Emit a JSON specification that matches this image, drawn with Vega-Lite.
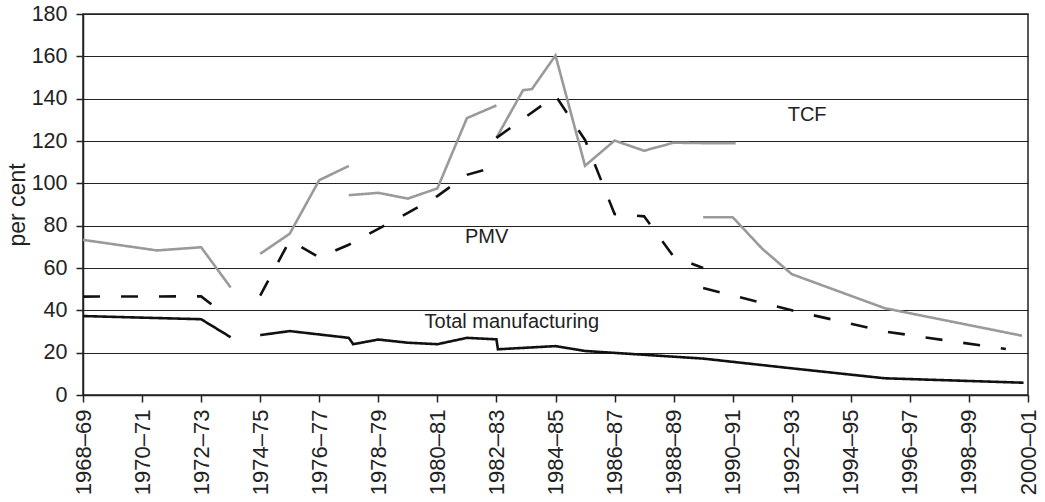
{
  "$schema": "https://vega.github.io/schema/vega-lite/v6.json",
  "width": 945,
  "height": 381,
  "autosize": "none",
  "padding": {"left": 83, "top": 14, "right": 17, "bottom": 107},
  "background": "white",
  "config": {
    "font": "Liberation Sans",
    "view": {"stroke": "#222", "strokeWidth": 1.5},
    "axis": {"domainColor": "#222", "tickColor": "#222", "labelColor": "#222", "titleColor": "#222", "domainWidth": 1.5, "tickWidth": 1.5}
  },
  "layer": [
    {
      "data": {
        "values": [
          {"series": "TCF", "seg": "T1", "year": 1968, "value": 73.3},
          {"series": "TCF", "seg": "T1", "year": 1970.5, "value": 68.3},
          {"series": "TCF", "seg": "T1", "year": 1972, "value": 69.8},
          {"series": "TCF", "seg": "T1", "year": 1973, "value": 50.8},
          {"series": "TCF", "seg": "T2", "year": 1974, "value": 66.7},
          {"series": "TCF", "seg": "T2", "year": 1975, "value": 76.2},
          {"series": "TCF", "seg": "T2", "year": 1976, "value": 101.5},
          {"series": "TCF", "seg": "T2", "year": 1977, "value": 108.2},
          {"series": "TCF", "seg": "T3", "year": 1977, "value": 94.4},
          {"series": "TCF", "seg": "T3", "year": 1978, "value": 95.5},
          {"series": "TCF", "seg": "T3", "year": 1979, "value": 92.8},
          {"series": "TCF", "seg": "T3", "year": 1980, "value": 97.6},
          {"series": "TCF", "seg": "T3", "year": 1981, "value": 130.8},
          {"series": "TCF", "seg": "T3", "year": 1982, "value": 136.8},
          {"series": "TCF", "seg": "T4", "year": 1982, "value": 121.5},
          {"series": "TCF", "seg": "T4", "year": 1982.9, "value": 144},
          {"series": "TCF", "seg": "T4", "year": 1983.2, "value": 144.5},
          {"series": "TCF", "seg": "T4", "year": 1984, "value": 160.4},
          {"series": "TCF", "seg": "T4", "year": 1985, "value": 108.3},
          {"series": "TCF", "seg": "T4", "year": 1986, "value": 120.2},
          {"series": "TCF", "seg": "T4", "year": 1987, "value": 115.4},
          {"series": "TCF", "seg": "T4", "year": 1988, "value": 119.2},
          {"series": "TCF", "seg": "T4", "year": 1989, "value": 119},
          {"series": "TCF", "seg": "T4", "year": 1990.1, "value": 119},
          {"series": "TCF", "seg": "T5", "year": 1989, "value": 84},
          {"series": "TCF", "seg": "T5", "year": 1990, "value": 84},
          {"series": "TCF", "seg": "T5", "year": 1991, "value": 69.1},
          {"series": "TCF", "seg": "T5", "year": 1992, "value": 57.1},
          {"series": "TCF", "seg": "T5", "year": 1995.15, "value": 41},
          {"series": "TCF", "seg": "T5", "year": 1999.8, "value": 28},
          {"series": "PMV", "seg": "P1", "year": 1968, "value": 46.5},
          {"series": "PMV", "seg": "P1", "year": 1972, "value": 46.6},
          {"series": "PMV", "seg": "P1", "year": 1972.45, "value": 41.8},
          {"series": "PMV", "seg": "P2", "year": 1974, "value": 47},
          {"series": "PMV", "seg": "P2", "year": 1975, "value": 73},
          {"series": "PMV", "seg": "P2", "year": 1976, "value": 65},
          {"series": "PMV", "seg": "P2", "year": 1977, "value": 71},
          {"series": "PMV", "seg": "P2", "year": 1978, "value": 78.5},
          {"series": "PMV", "seg": "P2", "year": 1979, "value": 86},
          {"series": "PMV", "seg": "P2", "year": 1980, "value": 94},
          {"series": "PMV", "seg": "P2", "year": 1981, "value": 104},
          {"series": "PMV", "seg": "P2", "year": 1982, "value": 108},
          {"series": "PMV", "seg": "P3", "year": 1982, "value": 121.5},
          {"series": "PMV", "seg": "P3", "year": 1984, "value": 141.4},
          {"series": "PMV", "seg": "P3", "year": 1985, "value": 120.5},
          {"series": "PMV", "seg": "P3", "year": 1986, "value": 85.5},
          {"series": "PMV", "seg": "P3", "year": 1987, "value": 84.4},
          {"series": "PMV", "seg": "P3", "year": 1988, "value": 65.4},
          {"series": "PMV", "seg": "P3", "year": 1989, "value": 60},
          {"series": "PMV", "seg": "P4", "year": 1989, "value": 50.5},
          {"series": "PMV", "seg": "P4", "year": 1992, "value": 40},
          {"series": "PMV", "seg": "P4", "year": 1995.15, "value": 30},
          {"series": "PMV", "seg": "P4", "year": 1999.25, "value": 21.7},
          {"series": "Total manufacturing", "seg": "M1", "year": 1968, "value": 37.3},
          {"series": "Total manufacturing", "seg": "M1", "year": 1972, "value": 35.8},
          {"series": "Total manufacturing", "seg": "M1", "year": 1973, "value": 27.3},
          {"series": "Total manufacturing", "seg": "M2", "year": 1974, "value": 28.3},
          {"series": "Total manufacturing", "seg": "M2", "year": 1975, "value": 30.2},
          {"series": "Total manufacturing", "seg": "M2", "year": 1977, "value": 27},
          {"series": "Total manufacturing", "seg": "M2", "year": 1977.15, "value": 24},
          {"series": "Total manufacturing", "seg": "M2", "year": 1978, "value": 26.2},
          {"series": "Total manufacturing", "seg": "M2", "year": 1979, "value": 24.7},
          {"series": "Total manufacturing", "seg": "M2", "year": 1980, "value": 24},
          {"series": "Total manufacturing", "seg": "M2", "year": 1981, "value": 27},
          {"series": "Total manufacturing", "seg": "M2", "year": 1982, "value": 26.3},
          {"series": "Total manufacturing", "seg": "M2", "year": 1982.05, "value": 21.6},
          {"series": "Total manufacturing", "seg": "M2", "year": 1984, "value": 23.1},
          {"series": "Total manufacturing", "seg": "M2", "year": 1985, "value": 20.8},
          {"series": "Total manufacturing", "seg": "M2", "year": 1989, "value": 17.2},
          {"series": "Total manufacturing", "seg": "M2", "year": 1992, "value": 12.6},
          {"series": "Total manufacturing", "seg": "M2", "year": 1995.15, "value": 7.9},
          {"series": "Total manufacturing", "seg": "M2", "year": 1999.85, "value": 5.8}
        ]
      },
      "mark": {"type": "line", "strokeWidth": 2.6},
      "encoding": {
        "x": {
          "field": "year", "type": "quantitative",
          "scale": {"domain": [1968, 2000], "nice": false, "zero": false},
          "axis": {
            "title": null, "grid": false,
            "values": [1968,1969,1970,1971,1972,1973,1974,1975,1976,1977,1978,1979,1980,1981,1982,1983,1984,1985,1986,1987,1988,1989,1990,1991,1992,1993,1994,1995,1996,1997,1998,1999,2000],
            "labelExpr": "datum.value % 2 == 0 ? datum.value + '–' + slice(toString(datum.value + 1), 2) : ''",
            "labelAngle": -90, "labelAlign": "right", "labelBaseline": "middle",
            "labelFontSize": 22, "labelPadding": 7, "tickSize": 7,
            "labelFlush": false, "labelOverlap": false, "labelBound": false
          }
        },
        "y": {
          "field": "value", "type": "quantitative",
          "scale": {"domain": [0, 180], "nice": false},
          "axis": {
            "title": "per cent", "titleFontSize": 23, "titleFontWeight": "normal", "titlePadding": 2,
            "values": [0,20,40,60,80,100,120,140,160,180],
            "grid": true, "gridColor": "#222", "gridWidth": 1.2,
            "labelFontSize": 21.5, "labelPadding": 9, "tickSize": 7
          }
        },
        "color": {"field": "series", "type": "nominal", "scale": {"domain": ["TCF", "PMV", "Total manufacturing"], "range": ["#9a9a9a", "#111111", "#111111"]}, "legend": null},
        "strokeDash": {"field": "series", "type": "nominal", "scale": {"domain": ["TCF", "PMV", "Total manufacturing"], "range": [[1, 0], [17, 21], [1, 0]]}, "legend": null},
        "detail": {"field": "seg"}
      }
    },
    {
      "data": {"values": [{"label": "TCF"}]},
      "mark": {"type": "text", "fontSize": 20, "color": "#222"},
      "encoding": {"text": {"field": "label"}, "x": {"datum": 1992.52}, "y": {"datum": 132.3}}
    },
    {
      "data": {"values": [{"label": "PMV"}]},
      "mark": {"type": "text", "fontSize": 20, "color": "#222"},
      "encoding": {"text": {"field": "label"}, "x": {"datum": 1981.67}, "y": {"datum": 74.8}}
    },
    {
      "data": {"values": [{"label": "Total manufacturing"}]},
      "mark": {"type": "text", "fontSize": 20, "color": "#222"},
      "encoding": {"text": {"field": "label"}, "x": {"datum": 1982.52}, "y": {"datum": 34.6}}
    }
  ]
}
